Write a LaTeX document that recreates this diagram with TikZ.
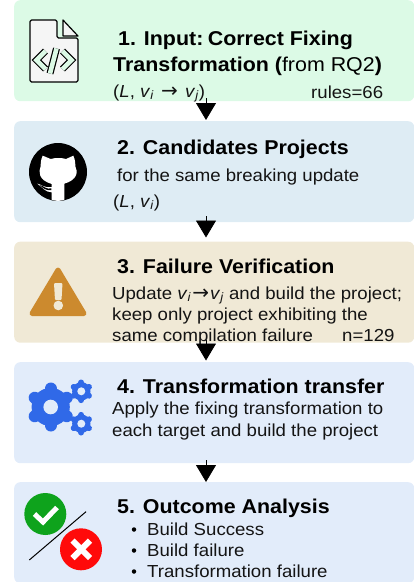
\documentclass[tikz,border=0pt]{standalone}
\usepackage{fontspec}
\setmainfont{Liberation Sans}[FakeStretch=1.07]
\newfontfamily\arrowfont{DejaVu Sans}
\usetikzlibrary{arrows.meta}
\definecolor{boxgreen}{HTML}{DCFAE6}
\definecolor{boxteal}{HTML}{DEECF4}
\definecolor{boxtan}{HTML}{F0E9D6}
\definecolor{boxblue}{HTML}{E2ECFA}
\definecolor{warn}{HTML}{CC8A2E}
\definecolor{gearblue}{HTML}{3069E8}
\definecolor{okgreen}{HTML}{0EA31C}
\definecolor{badred}{HTML}{FF0A0A}
\definecolor{paper}{HTML}{F5F5F5}
\newcommand{\vsub}[1]{\textit{v}\textsubscript{\textit{#1}}}
\newcommand{\arr}{{\arrowfont\fontsize{20}{20}\selectfont →}}
\newcommand{\gearicon}[5]{% x, y, outer r, tooth width, hole r
  \fill[gearblue] (#1,#2) circle ({#3*0.78});
  \foreach \a in {30,90,...,330}
    \draw[gearblue,line width=#4pt,line cap=round] (#1,#2)++(\a:{#3*0.6}) -- ++(\a:{#3*0.4-#4/2});
  \fill[boxblue] (#1,#2) circle (#5);
}
\newcommand{\codeglyphs}{
  \draw (45.5,51) -- (36.5,60) -- (45.5,69);
  \draw (62.5,51) -- (71.5,60) -- (62.5,69);
  \draw (56.5,48.5) -- (50,73.5);
}
\tikzset{
  x=1pt,y=-1pt,
  box/.style={anchor=north west,inner sep=0pt,minimum width=400pt,minimum height=101pt,rounded corners=6pt},
  title/.style={anchor=base west,inner sep=0pt,font=\fontsize{20}{24}\selectfont\bfseries,text=black},
  body/.style={anchor=base west,inner sep=0pt,font=\fontsize{17.4}{20}\selectfont,text=black!92},
  flow/.style={line width=0.8pt,-{Triangle[length=17pt,width=20pt]},black},
  bulletdot/.style={circle,fill=black,inner sep=0pt,minimum size=4.5pt}
}
\begin{document}
\begin{tikzpicture}
\useasboundingbox (0,0) rectangle (414,582);
% boxes
\node[box,fill=boxgreen] (b1) at (14,0) {};
\node[box,fill=boxteal] (b2) at (14,121) {};
\node[box,fill=boxtan] (b3) at (14,241.5) {};
\node[box,fill=boxblue] (b4) at (14,362) {};
\node[box,fill=boxblue] (b5) at (14,482) {};
% file icon
\draw[line width=1.2pt,fill=paper,line join=round,rounded corners=1.5pt] (30,20) -- (57,20) -- (57,38) -- (78,38) -- (78,82) -- (30,82) -- cycle;
\draw[line width=1.2pt,fill=paper,line join=round] (63,20) -- (78,36) -- (63,36) -- cycle;
\begin{scope}[line width=7pt,black]\codeglyphs\end{scope}
\begin{scope}[line width=4.6pt,boxgreen]\codeglyphs\end{scope}
% github icon
\fill[black] (58,172) circle (29);
\begin{scope}[shift={(20,135)},x=0.3333pt,y=-0.3333pt]
\fill[white] (68,62) -- (92,72) .. controls (105,68) and (125,68) .. (138,72) -- (160,62)
  .. controls (166,75) and (166,88) .. (166,94) .. controls (175,110) and (172,135) .. (133,146)
  -- (133,194) .. controls (120,199) and (108,199) .. (95,194) -- (95,172)
  .. controls (75,172) and (66,155) .. (52,146) .. controls (60,146) and (72,160) .. (95,156) -- (95,147)
  .. controls (55,135) and (55,110) .. (62,94) .. controls (62,88) and (62,75) .. (68,62) -- cycle;
\fill[black] (60,150) .. controls (70,152) and (80,165) .. (94,160) -- (94,165) .. controls (80,168) and (68,160) .. (60,150) -- cycle;
\end{scope}
% warning icon
\draw[warn,fill=warn,line width=5pt,line join=round] (58,270) -- (84,313.5) -- (32,313.5) -- cycle;
\fill[boxtan,rounded corners=1pt] (54,283) -- (62.5,283) -- (61.5,300) -- (55,300) -- cycle;
\fill[boxtan] (58.3,305.5) circle (4.8);
% gears
\gearicon{50.7}{407}{24.5}{12}{7.3}
\gearicon{81.3}{391.3}{11.8}{6}{4}
\gearicon{81.3}{423.7}{11.8}{6}{4}
% outcome icon
\fill[okgreen] (45.3,514) circle (21);
\fill[badred] (81,549.3) circle (21);
\draw[line width=1pt,black] (29.3,560) -- (86,511.7);
\draw[white,line width=5pt] (34.5,514) -- (43,522) -- (57,507.5);
\draw[white,line width=6pt] (72.5,540.5) -- (90,558);
\draw[white,line width=6pt] (90,540.5) -- (72.5,558);
% texts box 1
\node[title] (t1a) at (118,45) {1. Input:\hspace*{-1.5pt} Correct Fixing};
\node[title] (t1b) at (113,71) {Transformation (\textmd{from RQ2})};
\node[body] (t1c) at (113,97) {(\textit{L}, \vsub{i}\hspace*{2pt} \arr{}\hspace*{2pt} \vsub{j})};
\node[body] (t1d) at (311,98) {rules=66};
% box 2
\node[title] (t2a) at (117,154) {2. Candidates Projects};
\node[body] (t2b) at (117,181) {for the same breaking update};
\node[body] (t2c) at (113,207) {(\textit{L}, \vsub{i})};
% box 3
\node[title] (t3a) at (117,273) {3. Failure Verification};
\node[body] (t3b) at (112,299) {Update \vsub{i}\hspace*{1pt}\arr\hspace*{1pt}\vsub{j} and build the project;};
\node[body] (t3c) at (112,320) {keep only project exhibiting the};
\node[body] (t3d) at (112,341) {same compilation failure};
\node[body] (t3e) at (342,341) {n=129};
% box 4
\node[title] (t4a) at (117,393) {4. Transformation transfer};
\node[body] (t4b) at (112,414) {Apply the fixing transformation to};
\node[body] (t4c) at (112,436) {each target and build the project};
% box 5
\node[title] (t5a) at (117,513) {5. Outcome Analysis};
\node[body] (t5b) at (147,535) {Build Success};
\node[body] (t5c) at (147,556) {Build failure};
\node[body] (t5d) at (147,577) {Transformation failure};
\node[bulletdot] (d1) at (134,529.5) {};
\node[bulletdot] (d2) at (134,550.5) {};
\node[bulletdot] (d3) at (134,571.5) {};
% connectors
\coordinate (s1) at (206,98); \coordinate (e1) at (206,120);
\coordinate (s2) at (206,216); \coordinate (e2) at (206,237.5);
\coordinate (s3) at (206,340); \coordinate (e3) at (206,360.5);
\coordinate (s4) at (206,460); \coordinate (e4) at (206,482);
\draw[flow] (s1) -- (e1);
\draw[flow] (s2) -- (e2);
\draw[flow] (s3) -- (e3);
\draw[flow] (s4) -- (e4);
\end{tikzpicture}
\end{document}
